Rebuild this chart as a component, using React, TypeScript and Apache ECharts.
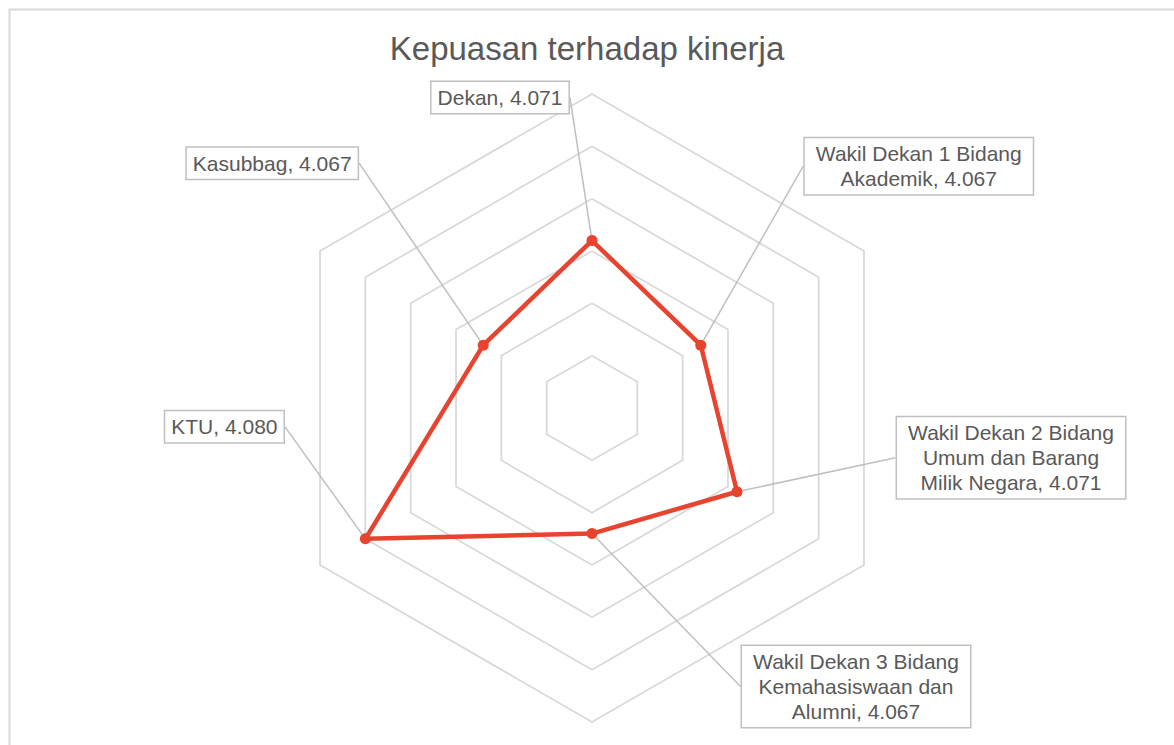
import React, { useEffect, useRef } from "react";
import * as echarts from "echarts";

// ---- Data (clockwise from the top, as in the reference) ----
const chartTitle = "Kepuasan terhadap kinerja";
const categories = [
  "Dekan",
  "Wakil Dekan 1 Bidang Akademik",
  "Wakil Dekan 2 Bidang Umum dan Barang Milik Negara",
  "Wakil Dekan 3 Bidang Kemahasiswaan dan Alumni",
  "KTU",
  "Kasubbag",
];
const values = [4.071, 4.067, 4.071, 4.067, 4.08, 4.067];
// how each category name wraps inside its label box
const nameLines = [
  ["Dekan"],
  ["Wakil Dekan 1 Bidang", "Akademik"],
  ["Wakil Dekan 2 Bidang", "Umum dan Barang", "Milik Negara"],
  ["Wakil Dekan 3 Bidang", "Kemahasiswaan dan", "Alumni"],
  ["KTU"],
  ["Kasubbag"],
];
const axisMin = 4.055;
const axisMax = 4.085;
const axisSplits = 6;

// ---- Layout (label box offsets from their point, px) ----
const labelOffsets = [
  [-92, -143],
  [218, -179],
  [274, -34],
  [264, 153],
  [-141, -112],
  [-211, -182],
];

// ECharts lays radar indicators out counter-clockwise; map to clockwise order
const order = [0, 5, 4, 3, 2, 1];

const RED = "#e8432f";
const TEXT = "#595959";
const FONT = "'Liberation Sans', Arial, sans-serif";

const labelTexts = categories.map((_, i) => {
  const lines = nameLines[i].slice();
  lines[lines.length - 1] = lines[lines.length - 1] + ", " + values[i].toFixed(3);
  if (lines.length === 1) return lines[0];
  return lines.map((l) => "{w|" + l + "}").join("\n");
});

export default function App() {
  const ref = useRef<HTMLDivElement>(null);
  useEffect(() => {
    if (!ref.current) return;
    const chart = echarts.init(ref.current, undefined, { renderer: "svg" });
    chart.setOption({
      animation: false,
      backgroundColor: "#ffffff",
      title: {
        text: chartTitle,
        left: "center",
        top: 27,
        textStyle: {
          fontSize: 33,
          fontWeight: "normal",
          color: TEXT,
          fontFamily: FONT,
        },
      },
      graphic: [
        {
          type: "rect",
          left: 7,
          top: 7,
          shape: { x: 0, y: 0, width: 1400, height: 1000 },
          style: { fill: "none", stroke: "#d9d9d9", lineWidth: 2 },
          silent: true,
          z: -10,
        },
      ],
      radar: {
        center: [592, 408],
        radius: 314,
        startAngle: 90,
        shape: "polygon",
        splitNumber: axisSplits,
        indicator: order.map((i) => ({
          name: categories[i],
          min: axisMin,
          max: axisMax,
        })),
        axisName: { show: false },
        axisLine: { show: false },
        axisTick: { show: false },
        axisLabel: { show: false },
        splitArea: { show: false },
        splitLine: { lineStyle: { color: "#d9d9d9", width: 1.8 } },
      },
      series: [
        {
          type: "radar",
          symbol: "circle",
          symbolSize: 11,
          itemStyle: { color: RED },
          lineStyle: { color: RED, width: 4.5 },
          data: [
            {
              name: chartTitle,
              value: order.map((i) => values[i]),
            },
          ],
          label: {
            show: true,
            position: "inside",
            formatter: (p: any) => labelTexts[order[p.dimensionIndex]],
            fontSize: 21,
            lineHeight: 25,
            color: TEXT,
            fontFamily: FONT,
            backgroundColor: "#ffffff",
            borderColor: "#bfbfbf",
            borderWidth: 1.5,
            padding: [3, 6, 3, 6],
            align: "center",
            verticalAlign: "middle",
            rich: {
              w: {
                width: 216,
                align: "center",
                fontSize: 21,
                lineHeight: 25,
                color: TEXT,
                fontFamily: FONT,
              },
            },
          },
          labelLine: {
            show: true,
            lineStyle: { color: "#bfbfbf", width: 1.5 },
          },
          labelLayout: (p: any) => {
            const i = labelTexts.indexOf(p.text);
            if (i < 0) return {};
            return { dx: labelOffsets[i][0], dy: labelOffsets[i][1] };
          },
          emphasis: { disabled: true },
        },
      ],
    });
    return () => chart.dispose();
  }, []);
  return (
    <div
      ref={ref}
      style={{ position: "absolute", left: 0, top: 0, width: 1174, height: 745 }}
    />
  );
}
